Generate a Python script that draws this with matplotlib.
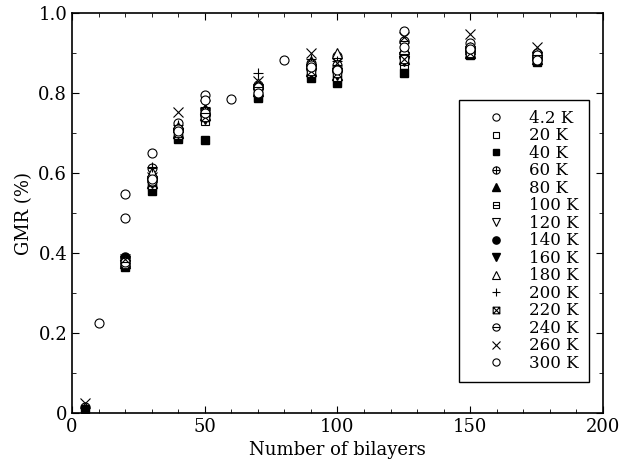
import numpy as np
import matplotlib
matplotlib.use('Agg')
import matplotlib.pyplot as plt
from matplotlib.path import Path
from matplotlib.ticker import MultipleLocator, FuncFormatter

plt.rcParams['font.family'] = 'DejaVu Serif'

nan = np.nan
bilayers = [5, 10, 20, 30, 40, 50, 60, 70, 80, 90, 100, 125, 150, 175]

temps = ['4.2 K', '20 K', '40 K', '60 K', '80 K', '100 K', '120 K', '140 K',
         '160 K', '180 K', '200 K', '220 K', '240 K', '260 K', '300 K']

gmr_4k = [0.015, 0.225, 0.548, 0.650, 0.725, 0.795, 0.785, 0.812, 0.882, 0.875, 0.893, 0.955, 0.925, 0.900]
gmr_20k = [nan, nan, 0.370, 0.565, 0.690, 0.730, nan, 0.790, nan, 0.845, 0.830, 0.870, 0.900, 0.880]
gmr_40k = [0.010, nan, 0.365, 0.555, 0.685, 0.683, nan, 0.787, nan, 0.838, 0.825, 0.850, 0.895, 0.877]
gmr_60k = [nan, nan, 0.385, 0.612, 0.705, 0.755, nan, 0.820, nan, 0.860, 0.860, 0.900, 0.905, 0.890]
gmr_80k = [nan, nan, 0.375, 0.575, 0.700, 0.745, nan, 0.805, nan, 0.855, 0.845, 0.885, 0.900, 0.885]
gmr_100k = [nan, nan, 0.370, 0.570, 0.695, 0.740, nan, 0.800, nan, 0.850, 0.840, 0.880, 0.900, 0.885]
gmr_120k = [nan, nan, 0.380, 0.580, 0.700, 0.750, nan, 0.810, nan, 0.860, 0.850, 0.890, 0.905, 0.890]
gmr_140k = [nan, nan, 0.390, 0.585, 0.710, 0.745, nan, 0.815, nan, 0.865, 0.855, 0.890, 0.905, 0.885]
gmr_160k = [nan, nan, 0.370, 0.575, 0.700, 0.735, nan, 0.800, nan, 0.850, 0.845, 0.880, 0.900, 0.882]
gmr_180k = [nan, nan, 0.380, 0.603, 0.715, 0.760, nan, 0.825, nan, 0.880, 0.900, 0.910, 0.910, 0.895]
gmr_200k = [nan, nan, 0.375, 0.615, 0.720, 0.765, nan, 0.850, nan, 0.885, 0.880, 0.925, 0.915, 0.890]
gmr_220k = [nan, nan, 0.372, 0.578, 0.700, 0.740, nan, 0.805, nan, 0.855, 0.850, 0.885, 0.900, 0.888]
gmr_240k = [nan, nan, 0.378, 0.580, 0.710, 0.750, nan, 0.815, nan, 0.870, 0.870, 0.930, 0.915, 0.895]
gmr_260k = [0.025, nan, 0.385, 0.590, 0.753, 0.770, nan, 0.830, nan, 0.900, 0.875, 0.940, 0.948, 0.915]
gmr_300k = [nan, nan, 0.488, 0.585, 0.705, 0.783, nan, 0.800, nan, 0.865, 0.857, 0.915, 0.910, 0.883]

series = [gmr_4k, gmr_20k, gmr_40k, gmr_60k, gmr_80k, gmr_100k, gmr_120k, gmr_140k,
          gmr_160k, gmr_180k, gmr_200k, gmr_220k, gmr_240k, gmr_260k, gmr_300k]

# composite markers: circle/square with lines inside
circ = Path.unit_circle()
sq = Path([(-1, -1), (1, -1), (1, 1), (-1, 1), (-1, -1)],
          [Path.MOVETO, Path.LINETO, Path.LINETO, Path.LINETO, Path.CLOSEPOLY])
hline = Path([(-1, 0), (1, 0)])
vline = Path([(0, -1), (0, 1)])
diag1 = Path([(-1, -1), (1, 1)])
diag2 = Path([(-1, 1), (1, -1)])
m_oplus = Path.make_compound_path(circ, hline, vline)
m_ominus = Path.make_compound_path(circ, hline)
m_boxminus = Path.make_compound_path(sq, hline)
m_boxtimes = Path.make_compound_path(sq, diag1, diag2)

# (marker, filled, size)
styles = [('o', False, 6.5), ('s', False, 6), ('s', True, 6), (m_oplus, False, 6.5),
          ('^', True, 6.5), (m_boxminus, False, 6), ('v', False, 6.5), ('o', True, 6.5),
          ('v', True, 6.5), ('^', False, 6.5), ('+', None, 7.5), (m_boxtimes, False, 6),
          (m_ominus, False, 6.5), ('x', None, 6.5), ('o', False, 6.5)]

fig, ax = plt.subplots(figsize=(6.19, 4.68), dpi=100)
fig.subplots_adjust(left=0.1163, right=0.974, bottom=0.1175, top=0.972)

for vals, lab, (m, filled, ms) in zip(series, temps, styles):
    if filled is None:
        ax.plot(bilayers, vals, linestyle='none', marker=m, markersize=ms,
                color='k', markeredgewidth=0.8, label=lab)
    elif filled:
        ax.plot(bilayers, vals, linestyle='none', marker=m, markersize=ms,
                markerfacecolor='k', markeredgecolor='k', label=lab)
    else:
        ax.plot(bilayers, vals, linestyle='none', marker=m, markersize=ms,
                markerfacecolor='white', markeredgecolor='k', markeredgewidth=0.8, label=lab)

ax.set_xlim(0, 200)
ax.set_ylim(0, 1.0)
ax.xaxis.set_major_locator(MultipleLocator(50))
ax.xaxis.set_minor_locator(MultipleLocator(10))
ax.yaxis.set_major_locator(MultipleLocator(0.2))
ax.yaxis.set_minor_locator(MultipleLocator(0.1))
ax.yaxis.set_major_formatter(FuncFormatter(lambda v, p: '0' if abs(v) < 1e-9 else '%.1f' % v))
ax.tick_params(which='both', direction='in', top=True, right=True, labelsize=13)
ax.tick_params(which='major', length=5)
ax.tick_params(which='minor', length=3)
for s in ax.spines.values():
    s.set_linewidth(1.2)

ax.set_xlabel('Number of bilayers', fontsize=13)
ax.set_ylabel('GMR (%)', fontsize=13)

leg = ax.legend(loc='upper right', bbox_to_anchor=(0.974, 0.783), fontsize=12,
                frameon=True, fancybox=False, edgecolor='k', framealpha=1,
                labelspacing=0.03, handlelength=3.2, handletextpad=0.42,
                borderpad=0.6, numpoints=1, markerscale=0.8, borderaxespad=0)
leg.get_frame().set_linewidth(1.0)

plt.savefig('out.png', dpi=100)
